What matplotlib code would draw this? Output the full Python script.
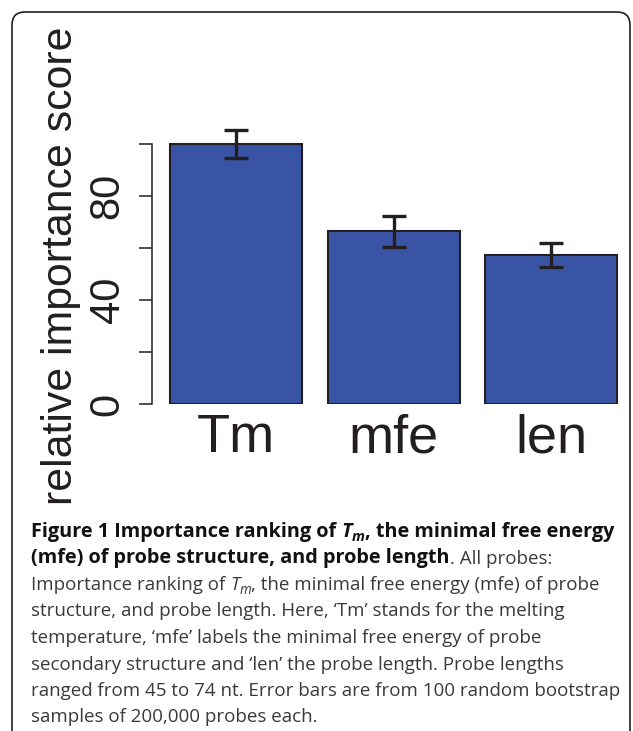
import matplotlib
matplotlib.use('Agg')
import matplotlib.pyplot as plt
from matplotlib.patches import FancyBboxPatch
from matplotlib.transforms import IdentityTransform

# data
labels = ['Tm', 'mfe', 'len']
scores = [100, 66.5, 57.3]
errors = [5.3, 6.0, 4.7]
yticks = [0, 20, 40, 60, 80, 100]
yticklabels = ['0', '', '40', '', '80', '']

W, H = 633, 731
fig = plt.figure(figsize=(W / 100, H / 100), dpi=100)

ink = '#231f20'
blue = '#3954a4'

# axes placed in pixel units (top-left origin)
left, right, top, bottom = 152, 630, 118, 404
ax = fig.add_axes([left / W, 1 - bottom / H, (right - left) / W, (bottom - top) / H])
ax.patch.set_visible(False)

x = range(len(labels))
ax.bar(x, scores, width=0.838, color=blue, edgecolor=ink, linewidth=1.5, zorder=2)
ax.errorbar(x, scores, yerr=errors, fmt='none', ecolor=ink, elinewidth=2.4,
            capsize=8.5, capthick=2.4, zorder=3)

ax.set_xlim(-0.533, 2.5)
ax.set_ylim(0, 110)
for s in ['top', 'right', 'bottom']:
    ax.spines[s].set_visible(False)
ax.spines['left'].set_bounds(0, 100)
ax.spines['left'].set_linewidth(1.1)
ax.spines['left'].set_color(ink)

ax.set_yticks(yticks)
ax.set_yticklabels(yticklabels, rotation=90, va='center', fontsize=30,
                   family='Liberation Sans', color=ink)
ax.tick_params(axis='y', length=9.5, width=1.1, color=ink, pad=8)
ax.set_xticks(list(x))
ax.set_xticklabels(labels, fontsize=39, family='Liberation Sans', color=ink)
ax.tick_params(axis='x', length=0, pad=6.5)

fig.text(72 / W, 1 - 266 / H, 'relative importance score', rotation=90,
         rotation_mode='anchor', ha='center', va='baseline', fontsize=30.8,
         family='Liberation Sans', color=ink)

# frame around the figure panel
frame = FancyBboxPatch((12, -40), 618, H - 12 + 40, boxstyle='round,pad=0,rounding_size=13',
                       transform=IdentityTransform(), fill=False, edgecolor=ink,
                       linewidth=1.2)
fig.patches.append(frame)

# caption
fs_b = 14.3
fs_r = 13.5
bold = dict(family='Open Sans', fontweight='bold', fontsize=fs_b, color='#111111')
bolditalic = dict(bold, style='italic')
reg = dict(family='Open Sans', fontsize=fs_r, color='#3a3a3a')
ital = dict(reg, style='italic')

renderer = fig.canvas.get_renderer()


def width_of(s, props):
    t = fig.text(0, 0, s, **props)
    w = t.get_window_extent(renderer).width
    t.remove()
    return w


def space_of(props):
    return width_of('a a', props) - width_of('aa', props)


def line(x0, y0, parts):
    # parts: (text, props, gap after, subscript)
    xp = x0
    for s, props, gap, sub in parts:
        p = dict(props)
        dy = 0
        if sub:
            p['fontsize'] = props['fontsize'] * 0.72
            dy = 4
        t = fig.text(xp / W, 1 - (y0 + dy) / H, s, va='baseline', **p)
        xp += t.get_window_extent(renderer).width
        if gap:
            xp += space_of(props)


x0 = 31
lh = 26.5
y0 = 537
line(x0, y0, [('Figure 1 Importance ranking of', bold, True, False),
              ('T', bolditalic, False, False), ('m', bolditalic, False, True),
              (', the minimal free energy', bold, False, False)])
line(x0, y0 + lh, [('(mfe) of probe structure, and probe length', bold, False, False),
                   ('. All probes:', reg, False, False)])
line(x0, y0 + 2 * lh, [('Importance ranking of', reg, True, False),
                       ('T', ital, False, False), ('m', ital, False, True),
                       (', the minimal free energy (mfe) of probe', reg, False, False)])
rest = ["structure, and probe length. Here, \u2018Tm\u2019 stands for the melting",
        "temperature, \u2018mfe\u2019 labels the minimal free energy of probe",
        "secondary structure and \u2018len\u2019 the probe length. Probe lengths",
        "ranged from 45 to 74 nt. Error bars are from 100 random bootstrap",
        "samples of 200,000 probes each."]
for i, s in enumerate(rest):
    line(x0, y0 + (3 + i) * lh, [(s, reg, False, False)])

fig.savefig('out.png', dpi=100)
